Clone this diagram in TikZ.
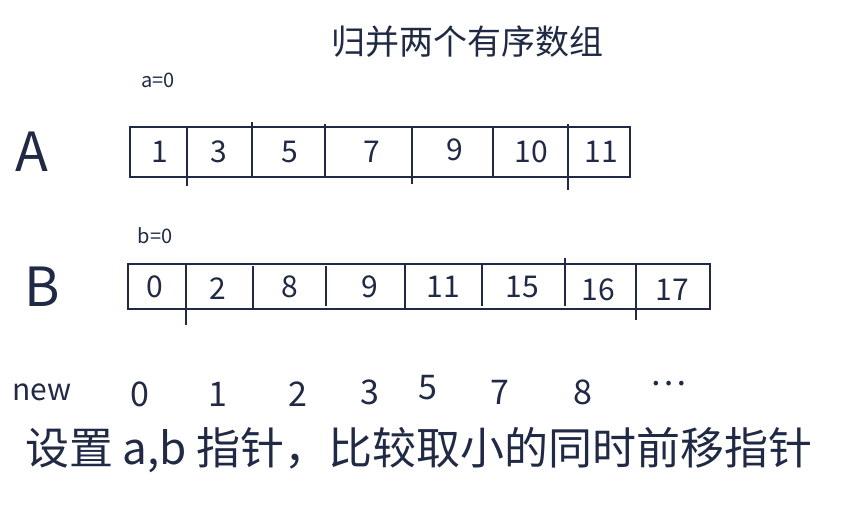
\documentclass[tikz,border=0pt]{standalone}
\usepackage{fontspec}
\newfontfamily\cjk{Noto Sans CJK SC}
\usetikzlibrary{positioning}
\definecolor{ink}{RGB}{32,42,68}

\begin{document}
\begin{tikzpicture}[x=1pt,y=-1pt,line width=1.8pt,draw=ink,
  every node/.style={text=ink,inner sep=0pt},
  title/.style={font={\cjk\fontsize{34}{40}\selectfont}},
  note/.style={font={\cjk\fontsize{44}{50}\selectfont}},
  ptr/.style={font={\cjk\fontsize{20}{24}\selectfont}},
  arrname/.style={font={\cjk\fontsize{54}{60}\selectfont}},
  cell/.style={font={\cjk\fontsize{30}{34}\selectfont}},
  outnum/.style={font={\cjk\fontsize{34}{38}\selectfont}}]
  \useasboundingbox (0,0) rectangle (848,505);
  \node[title] (title) at (467,42) {归并两个有序数组};
  % array A
  \node[ptr] (pa) at (158,80) {a=0};
  \node[arrname] (nameA) at (32,152) {A};
  \draw[ink] (130,127) rectangle (630,177);
  \draw[ink] (187,126) -- (187,186) (252,122) -- (252,178) (325,124) -- (325,176)
    (412,127) -- (412,184) (493,126) -- (493,178) (568,124) -- (568,190);
  \node[cell] (a0) at (160,152) {1};
  \node[cell] (a1) at (219,152) {3};
  \node[cell] (a2) at (290,152) {5};
  \node[cell] (a3) at (372,152) {7};
  \node[cell] (a4) at (455,150) {9};
  \node[cell] (a5) at (531,152) {10};
  \node[cell] (a6) at (601,152) {11};
  % array B
  \node[ptr] (pb) at (155,236) {b=0};
  \node[arrname] (nameB) at (42,287) {B};
  \draw[ink] (128,264) rectangle (710,309);
  \draw[ink] (186,264) -- (186,325) (253,266) -- (253,309) (326,266) -- (326,306)
    (405,264) -- (405,310) (482,264) -- (482,306) (565,258) -- (565,306) (636,264) -- (636,320);
  \node[cell] (b0) at (155,287) {0};
  \node[cell] (b1) at (218,289) {2};
  \node[cell] (b2) at (290,287) {8};
  \node[cell] (b3) at (370,287) {9};
  \node[cell] (b4) at (443,287) {11};
  \node[cell] (b5) at (522,287) {15};
  \node[cell] (b6) at (598,290) {16};
  \node[cell] (b7) at (672,290) {17};
  % merged output
  \node[cell] (new) at (42,392) {new};
  \node[outnum] (n0) at (140,394) {0};
  \node[outnum] (n1) at (218,394) {1};
  \node[outnum] (n2) at (298,394) {2};
  \node[outnum] (n3) at (370,392) {3};
  \node[outnum] (n4) at (428,388) {5};
  \node[outnum] (n5) at (500,392) {7};
  \node[outnum] (n6) at (583,392) {8};
  \node[outnum] (n7) at (668,384) {\dots};
  \node[note] (rule) at (419,450) {设置 a,b 指针，比较取小的同时前移指针};
\end{tikzpicture}
\end{document}
